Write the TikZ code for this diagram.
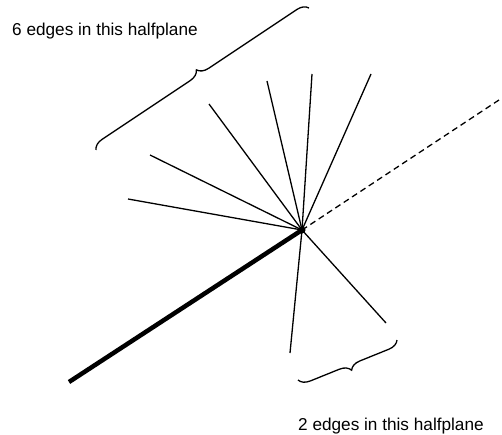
\documentclass[tikz,border=0pt]{standalone}
\usepackage{fontspec}
\setmainfont{Liberation Sans}
\usetikzlibrary{decorations.pathreplacing}

\begin{document}
\begin{tikzpicture}[x=1pt,y=-1pt,
  edge/.style={line width=1.3pt},
  halfbrace/.style={line width=1.3pt,decorate,decoration={brace,amplitude=11pt}},
  label/.style={font=\fontsize{17.2}{20}\selectfont,inner sep=0pt}]
  \useasboundingbox (0,0) rectangle (502,435);

  % the vertex and its edges
  \coordinate (v) at (302,230);
  \coordinate (a1) at (128,199);
  \coordinate (a2) at (150,155);
  \coordinate (a3) at (209,104);
  \coordinate (a4) at (267,81);
  \coordinate (a5) at (312,74);
  \coordinate (a6) at (371,74);
  \coordinate (b1) at (290,353);
  \coordinate (b2) at (386,323);
  \coordinate (far) at (502,98);
  \coordinate (base) at (69,382);

  \foreach \e in {a1,a2,a3,a4,a5,a6,b1,b2}
    \draw[edge] (v) -- (\e);
  \draw[line width=4.5pt] (base) -- (v);
  \draw[edge,dash pattern=on 6pt off 4pt] (v) -- (far);
  \fill (v) circle (3.5pt);

  % braces and labels
  \coordinate (t1) at (96,150);
  \coordinate (t2) at (309,8);
  \draw[halfbrace] (t1) -- (t2);
  \coordinate (s1) at (298,380);
  \coordinate (s2) at (397,340);
  \draw[halfbrace,decoration={mirror}] (s1) -- (s2);

  \node[label,anchor=base west] (top) at (12,36) {6 edges in this halfplane};
  \node[label,anchor=base west] (bot) at (298,430) {2 edges in this halfplane};
\end{tikzpicture}
\end{document}
